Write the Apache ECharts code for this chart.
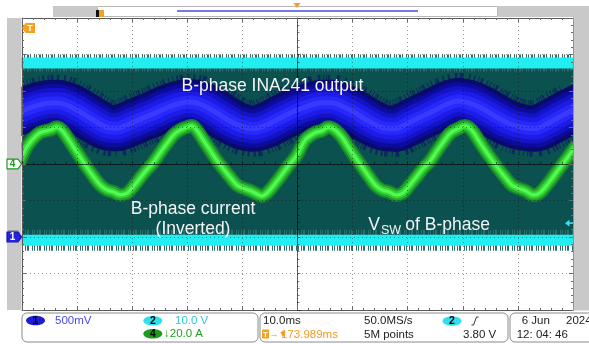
<!DOCTYPE html>
<html>
<head>
<meta charset="utf-8">
<script src="https://cdn.jsdelivr.net/npm/echarts@6/dist/echarts.min.js"></script>
<style>
  html, body { margin: 0; padding: 0; background: #ffffff; }
  #scope { width: 589px; height: 344px; }
</style>
</head>
<body>
<div id="scope"></div>
<script>
// Time base: 10 ms/div, trigger at screen centre (ms)
const timeTicks = [-50, -40, -30, -20, -10, 0, 10, 20, 30, 40, 50];

// Channel 4: B-phase current (inverted probe), 20 A/div, offset 0 div
const ch4Time = [-50, -49.1, -47.9, -46.7, -45.5, -44.6, -43.7, -42.8, -41.9, -40.7, -39.5, -38.3, -37.1, -35.8, -34.6, -33.4, -32.2, -31.0, -29.8, -28.6, -27.4, -26.2, -25.0, -23.7, -22.5, -21.3, -20.1, -19.2, -18.3, -17.1, -15.9, -14.7, -13.5, -12.3, -11.0, -9.8, -8.6, -7.4, -6.5, -5.3, -3.8, -2.0, -0.1,
  1.4, 3.2, 4.4, 5.6, 6.8, 8.0, 9.2, 10.4, 11.7, 12.9, 14.1, 15.3, 16.5, 18.0, 19.2, 20.4, 21.6, 22.8, 24.0, 25.2, 26.5, 27.7, 28.9, 30.4, 31.6, 32.8, 34.0, 35.2, 36.4, 37.7, 38.9, 40.1, 41.3, 42.8, 44.0, 45.5, 47.3, 48.9, 50.0];
const ch4Amps = [4.0, 9.5, 14.1, 17.2, 18.2, 19.0, 20.1, 18.6, 15.0, 9.5, 4.0, -1.5, -6.6, -11.5, -14.2, -15.3, -16.8, -16.1, -12.4, -7.8, -3.3, 0.7, 5.9, 11.3, 15.9, 18.6, 20.1, 20.8, 18.6, 13.2, 7.7, 2.2, -2.4, -7.0, -11.5, -13.3, -14.6, -16.4, -17.5, -15.2, -9.7, -2.4, 4.9,
  13.2, 17.2, 18.2, 20.1, 18.6, 15.0, 9.5, 4.0, -1.5, -6.6, -11.5, -14.2, -15.2, -17.0, -15.7, -11.5, -7.0, -2.4, 1.3, 6.7, 12.2, 16.8, 19.0, 20.8, 18.6, 13.2, 7.7, 2.6, -2.4, -7.3, -11.5, -13.3, -14.6, -17.0, -15.7, -10.6, -3.3, 3.1, 7.7];

// Channel 1: INA241 output, 500 mV/div, offset -2 div
const ch1Time = [-50, -47.9, -45.5, -43.7, -41.9, -39.5, -37.1, -34.6, -32.8, -31.0, -28.6, -26.2, -23.7, -21.3, -19.5, -17.7, -15.3, -12.8, -10.4, -8.0, -5.6, -3.2, -0.8,
  2.0, 4.4, 6.2, 8.0, 10.4, 12.8, 15.3, 17.7, 19.5, 21.9, 24.4, 26.8, 29.2, 31.0, 33.4, 35.8, 38.3, 40.7, 43.1, 45.5, 47.9, 50.0];
const ch1Volts = [1.726, 1.785, 1.832, 1.840, 1.808, 1.716, 1.603, 1.503, 1.489, 1.534, 1.612, 1.685, 1.771, 1.832, 1.849, 1.822, 1.730, 1.612, 1.521, 1.484, 1.534, 1.626, 1.716,
  1.795, 1.840, 1.840, 1.795, 1.703, 1.593, 1.503, 1.484, 1.534, 1.626, 1.716, 1.808, 1.863, 1.840, 1.763, 1.658, 1.558, 1.503, 1.484, 1.558, 1.658, 1.740];

// Channel 2: switch node voltage, 10 V/div, offset -2 div (high / low rails)
const ch2Time = [-50, 50];
const ch2High = [47.7, 47.7];
const ch2Low = [-0.9, -0.9];
const ch2TrigLevel = 3.80;

// vertical scale per channel: [units per div, offset in div]
const scale = { ch1: [0.5, -2], ch2: [10, -2], ch4: [20, 0] };
const toDiv = (ch, v) => v / scale[ch][0] + scale[ch][1];
const pairs = (ch, t, v) => t.map((x, i) => [x, toDiv(ch, v[i])]);

const FONT = '"Liberation Sans", Arial, sans-serif';

function trace(data, width, color, dash, z, smooth) {
  return {
    type: 'line', data, symbol: 'none', silent: true, smooth: smooth == null ? 0.35 : smooth,
    xAxisIndex: 0, yAxisIndex: 0, z: z,
    // dashed strokes give the noisy fringe; solid ones get square ends so they reach the screen edge
    lineStyle: { width, color, type: dash || 'solid', join: 'round', cap: dash ? 'butt' : 'square' }
  };
}

const ch1Data = pairs('ch1', ch1Time, ch1Volts);
const ch4Data = pairs('ch4', ch4Time, ch4Amps);
const hiData = pairs('ch2', ch2Time, ch2High);
const loData = pairs('ch2', ch2Time, ch2Low);

const series = [
  // switch node persistence between rails
  {
    type: 'line', data: hiData, symbol: 'none', silent: true, z: 1,
    lineStyle: { width: 0 },
    markArea: {
      silent: true,
      itemStyle: { color: '#0b5150' },
      data: [[{ yAxis: toDiv('ch2', ch2Low[0]) }, { yAxis: toDiv('ch2', ch2High[0]) }]]
    }
  },
  trace(hiData, 17, '#2f6c6c', [1, 1, 1, 2, 2, 1, 1, 3], 1.5, false),
  trace(hiData, 11, '#22eef2', null, 1.6, false),
  trace(loData, 21, '#2f6c6c', [1, 2, 1, 1, 2, 3, 1, 1], 1.5, false),
  trace(loData, 11, '#22eef2', null, 1.6, false),

  // INA241 output band
  trace(ch1Data, 56, 'rgba(12,36,96,0.9)', [1, 2, 1, 1, 2, 3, 1, 2], 2),
  trace(ch1Data, 46, '#0a0a6c', null, 2.1),
  trace(ch1Data, 38, '#0c0c9c', null, 2.2),
  trace(ch1Data, 30, '#1414c6', null, 2.3),
  trace(ch1Data, 22, '#1c1ce6', null, 2.4),
  trace(ch1Data, 13, '#2828fa', null, 2.5),
  trace(ch1Data, 5, '#3a3aff', null, 2.6),

  // phase current
  trace(ch4Data, 14, '#1b7a32', null, 3),
  trace(ch4Data, 11, '#22a82a', null, 3.1),
  trace(ch4Data, 7, '#34d834', null, 3.2),
  trace(ch4Data, 3, '#55f855', null, 3.3)
];

const tickStyle = { color: '#6a6a6a', width: 1 };
function borderX(position, split) {
  return {
    type: 'value', min: -50, max: 50, interval: 10, position, z: 4,
    axisLine: { show: true, onZero: false, lineStyle: { color: '#5a5a5a', width: 1 } },
    axisTick: { show: true, inside: true, length: 4, lineStyle: tickStyle },
    minorTick: { show: true, splitNumber: 5, length: 2, lineStyle: tickStyle },
    axisLabel: { show: false },
    splitLine: { show: split, lineStyle: { color: 'rgba(0,0,0,0.42)', width: 1, type: [1, 3] } }
  };
}
function borderY(position, split) {
  return {
    type: 'value', min: -4, max: 4, interval: 1, position, z: 4,
    axisLine: { show: true, onZero: false, lineStyle: { color: '#5a5a5a', width: 1 } },
    axisTick: { show: true, inside: true, length: 4, lineStyle: tickStyle },
    minorTick: { show: true, splitNumber: 5, length: 2, lineStyle: tickStyle },
    axisLabel: { show: false },
    splitLine: { show: split, lineStyle: { color: 'rgba(0,0,0,0.42)', width: 1, type: [1, 3] } }
  };
}
const centreX = Object.assign(borderX('bottom', false), {
  axisLine: { show: true, onZero: true, onZeroAxisIndex: 0, lineStyle: { color: 'rgba(0,0,0,0.6)', width: 1 } },
  axisTick: { show: true, inside: true, length: 3, lineStyle: { color: 'rgba(0,0,0,0.5)' } },
  minorTick: { show: true, splitNumber: 5, length: 2, lineStyle: { color: 'rgba(0,0,0,0.5)' } }
});
const centreY = Object.assign(borderY('left', false), {
  axisLine: { show: true, onZero: true, onZeroAxisIndex: 0, lineStyle: { color: 'rgba(0,0,0,0.6)', width: 1 } },
  axisTick: { show: true, inside: true, length: 3, lineStyle: { color: 'rgba(0,0,0,0.5)' } },
  minorTick: { show: true, splitNumber: 5, length: 2, lineStyle: { color: 'rgba(0,0,0,0.5)' } }
});

const chart = echarts.init(document.getElementById('scope'), null, { renderer: 'canvas' });
chart.setOption({
  animation: false,
  backgroundColor: '#ffffff',
  grid: { left: 22, top: 18, width: 551, height: 292, containLabel: false },
  xAxis: [borderX('bottom', true), borderX('top', false), centreX],
  yAxis: [borderY('left', true), borderY('right', false), centreY],
  series
});

// screen furniture positioned through the axes
const yPix = (ch, v) => chart.convertToPixel({ yAxisIndex: 0 }, toDiv(ch, v));
const y4 = yPix('ch4', 0);
const y1 = yPix('ch1', 0);
const yTrig = yPix('ch2', ch2TrigLevel);

function label(text, x, y, color, size, align, weight) {
  return { type: 'text', x, y, z: 20, silent: true,
    style: { text, fill: color, font: (weight || 'normal') + ' ' + size + 'px ' + FONT,
      textAlign: align || 'left', textVerticalAlign: 'middle' } };
}
function chanMarker(y, fill, stroke, txt, txtColor) {
  return [
    { type: 'polygon', z: 20, silent: true,
      shape: { points: [[7, y - 4.8], [18, y - 4.8], [21.5, y], [18, y + 4.8], [7, y + 4.8]] },
      style: { fill, stroke, lineWidth: 1.2 } },
    label(txt, 12.5, y + 0.5, txtColor, 10, 'center', 'bold')
  ];
}
function pill(cx, cy, fill, txt) {
  return [
    { type: 'ellipse', z: 20, silent: true, shape: { cx, cy, rx: 9.5, ry: 4.8 }, style: { fill } },
    label(txt, cx, cy + 0.5, '#000000', 10.5, 'center', 'bold')
  ];
}

const graphic = [].concat(
  // side strips (also trim the wide persistence strokes at the screen edge) and top record bar
  [
    { type: 'rect', z: 15, silent: true, shape: { x: 0, y: 17, width: 7, height: 294 }, style: { fill: '#ffffff' } },
    { type: 'rect', z: 15, silent: true, shape: { x: 7, y: 18, width: 14.5, height: 292 }, style: { fill: '#c9c9c9' } },
    { type: 'rect', z: 15, silent: true, shape: { x: 573.5, y: 6, width: 16, height: 304.5 }, style: { fill: '#c9c9c9' } },
    { type: 'rect', z: 0, silent: true, shape: { x: 53, y: 6, width: 44, height: 11 }, style: { fill: '#c9c9c9' } },
    { type: 'rect', z: 0, silent: true, shape: { x: 498, y: 6, width: 91, height: 11 }, style: { fill: '#c9c9c9' } },
    { type: 'rect', z: 1, silent: true, shape: { x: 97.5, y: 6.5, width: 400, height: 10 }, style: { fill: '#ffffff', stroke: '#b8b8b8', lineWidth: 1 } },
    { type: 'line', z: 2, silent: true, shape: { x1: 177, y1: 11, x2: 418, y2: 11 }, style: { stroke: '#4a4ae6', lineWidth: 1.5 } },
    { type: 'rect', z: 2, silent: true, shape: { x: 96, y: 10, width: 3, height: 7 }, style: { fill: '#111111' } },
    { type: 'polygon', z: 2, silent: true, shape: { points: [[99, 10], [104, 10], [104, 17], [99, 17]] }, style: { fill: '#f5a020' } },
    { type: 'polygon', z: 2, silent: true, shape: { points: [[293.5, 3], [300.5, 3], [297, 8]] }, style: { fill: '#f5a020' } }
  ],
  // trigger position marker
  [
    { type: 'polygon', z: 20, silent: true, shape: { points: [[22, 28], [25.5, 23], [35, 23], [35, 33], [25.5, 33]] }, style: { fill: '#f5a020' } },
    label('T', 30, 28.5, '#ffffff', 9, 'center', 'bold')
  ],
  // channel ground markers
  [{ type: 'polygon', z: 19, silent: true, shape: { points: [[8, y1 - 7], [18, y1 - 7], [20, y1 - 4], [8, y1 - 4]] }, style: { fill: '#9a9a9a' } }],
  chanMarker(y4, '#ffffff', '#1f9a1f', '4', '#1f9a1f'),
  chanMarker(y1, '#2323e6', '#1515b0', '1', '#ffffff'),
  // trigger level arrow (ch2)
  [
    { type: 'polygon', z: 20, silent: true, shape: { points: [[565, yTrig], [569.5, yTrig - 3.5], [569.5, yTrig + 3.5]] }, style: { fill: '#2ee6f0' } },
    { type: 'line', z: 20, silent: true, shape: { x1: 569, y1: yTrig, x2: 573, y2: yTrig }, style: { stroke: '#2ee6f0', lineWidth: 1.5 } }
  ],
  // trace annotations
  [
    label('B-phase INA241 output', 272.5, 86.5, '#f4f4f4', 17.5, 'center'),
    label('B-phase current', 193, 209.3, '#f4f4f4', 17.5, 'center'),
    label('(Inverted)', 193, 229, '#f4f4f4', 17.5, 'center'),
    label('V', 368.3, 225.3, '#f4f4f4', 17.5, 'left'),
    label('SW', 381, 230.5, '#f4f4f4', 12.5, 'left'),
    label(' of B-phase', 400.5, 225.3, '#f4f4f4', 17.5, 'left')
  ],
  // readout panels
  [
    { type: 'rect', z: 16, silent: true, shape: { x: 22, y: 313, width: 236, height: 29, r: 5 }, style: { fill: '#ffffff', stroke: '#8a8a8a', lineWidth: 1 } },
    { type: 'rect', z: 16, silent: true, shape: { x: 260, y: 313, width: 248, height: 29, r: 5 }, style: { fill: '#ffffff', stroke: '#8a8a8a', lineWidth: 1 } },
    { type: 'rect', z: 16, silent: true, shape: { x: 510, y: 313, width: 90, height: 29, r: 5 }, style: { fill: '#ffffff', stroke: '#8a8a8a', lineWidth: 1 } }
  ],
  pill(35.5, 320.5, '#1c1cd6', '1'),
  [label('500mV', 55, 321, '#4848e8', 11.5)],
  pill(152.8, 320.7, '#2ee0f0', '2'),
  [label('10.0 V', 175, 321, '#2cc8e0', 11.5)],
  pill(152.8, 333.8, '#1c9a1c', '4'),
  [label('\u219320.0 A', 164, 334, '#20a020', 11.5)],
  [
    label('10.0ms', 263, 321, '#222222', 11.5),
    { type: 'rect', z: 20, silent: true, shape: { x: 262, y: 329.5, width: 7, height: 9, r: 1 }, style: { fill: '#f5a020' } },
    label('T', 265.5, 334.5, '#ffffff', 8, 'center', 'bold'),
    label('\u2192\u25BC', 269.5, 334.5, '#f09a20', 9),
    label('173.989ms', 281, 334.5, '#f09a20', 11.5),
    label('50.0MS/s', 364, 321, '#222222', 11.5),
    label('5M points', 364, 334.5, '#222222', 11.5)
  ],
  pill(452, 321, '#2ee0f0', '2'),
  [
    { type: 'polyline', z: 20, silent: true, shape: { points: [[471.5, 325], [473.5, 325], [476.5, 317], [478.5, 317]] }, style: { stroke: '#333333', lineWidth: 1, fill: null } },
    label('3.80 V', 463, 334.5, '#222222', 11.5),
    label('6 Jun', 521.7, 321, '#222222', 11.5),
    label('2024', 566, 321, '#222222', 11.5),
    label('12: 04: 46', 516.7, 334.5, '#222222', 11.5)
  ]
);

chart.setOption({ graphic });
</script>
</body>
</html>
